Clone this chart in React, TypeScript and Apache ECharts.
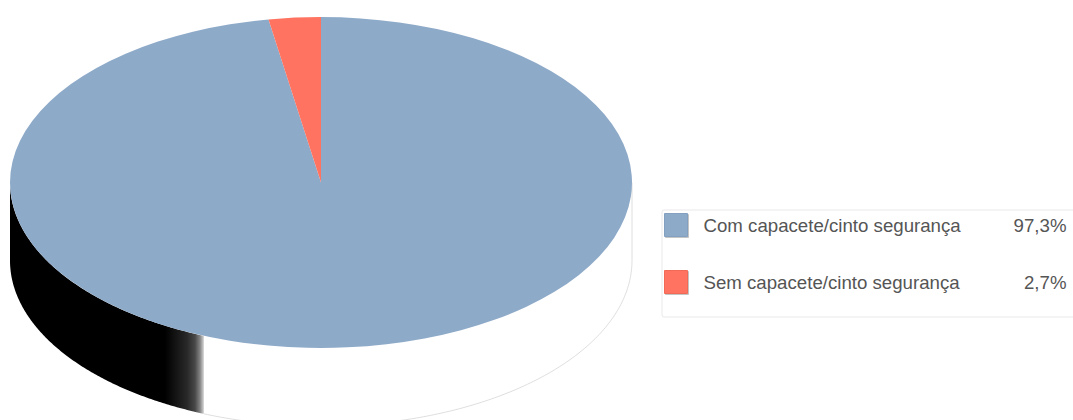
import React, { useEffect, useRef } from "react";
import * as echarts from "echarts";

const categories = ["Com capacete/cinto segurança", "Sem capacete/cinto segurança"];
const percentages = [97.3, 2.7];
const sliceColors = ["#8eaac9", "#ff7360"];
const swatchEdges = ["#84a0c0", "#f06a57"];

const total = percentages.reduce((a, b) => a + b, 0);
const CX = 321;
const CY = 182.5;
const RX = 311;
const RY = 165.5;
const DEPTH = 78;
const SHADE_END_X = 204;

function wallGeometry() {
  const edgeAngle = Math.acos((SHADE_END_X - CX) / RX);
  const arc = (from: number, to: number, dy: number) => {
    const pts: number[][] = [];
    const n = 160;
    for (let i = 0; i <= n; i++) {
      const a = from + ((to - from) * i) / n;
      pts.push([CX + RX * Math.cos(a), CY + RY * Math.sin(a) + dy]);
    }
    return pts;
  };
  const darkTop = arc(edgeAngle, Math.PI, 0);
  const darkBottom = arc(Math.PI, edgeAngle, DEPTH);
  const lightBottom = arc(0, edgeAngle, DEPTH);
  return { dark: [...darkTop, ...darkBottom], lightBottom };
}

function makeRender(index: number) {
  return (_params: any, api: any) => {
    const before = percentages.slice(0, index).reduce((a, b) => a + b, 0);
    const value = api.value(0) as number;
    const start = -Math.PI / 2 + (before / total) * Math.PI * 2;
    const end = start + (value / total) * Math.PI * 2;
    const top = {
      type: "sector",
      x: CX,
      y: CY,
      scaleY: RY / RX,
      shape: { cx: 0, cy: 0, r0: 0, r: RX, startAngle: start, endAngle: end, clockwise: true },
      style: { fill: sliceColors[index] },
      z2: 10,
    };
    if (index !== 0) return top;
    const wall = wallGeometry();
    const gradient = new echarts.graphic.LinearGradient(0, 0, 1, 0, [
      { offset: 0, color: "#000000" },
      { offset: 0.8, color: "#000000" },
      { offset: 0.84, color: "#0f0f0f" },
      { offset: 0.912, color: "#282828" },
      { offset: 0.954, color: "#484848" },
      { offset: 0.98, color: "#868686" },
      { offset: 0.995, color: "#c4c4c4" },
      { offset: 1, color: "#e0e0e0" },
    ]);
    return {
      type: "group",
      children: [
        {
          type: "polygon",
          shape: { points: wall.dark },
          style: { fill: gradient },
          z2: 1,
        },
        {
          type: "polyline",
          shape: { points: [[CX + RX, CY], ...wall.lightBottom] },
          style: { fill: "none", stroke: "#d6d6d6", lineWidth: 0.8 },
          z2: 1,
        },
        top,
      ],
    };
  };
}

export default function App() {
  const ref = useRef<HTMLDivElement>(null);
  useEffect(() => {
    document.body.style.margin = "0";
    const chart = echarts.init(ref.current!, null, { renderer: "svg" });
    const font = { fontFamily: "Liberation Sans", fontSize: 18.67, color: "#555555" };
    chart.setOption({
      animation: false,
      backgroundColor: "#ffffff",
      legend: {
        show: true,
        orient: "vertical",
        left: 662,
        top: 210,
        data: categories.map((name, i) => ({
          name,
          itemStyle: {
            color: sliceColors[i],
            borderColor: swatchEdges[i],
            borderWidth: 1,
            shadowColor: "#c4c4c4",
            shadowOffsetX: 1,
            shadowOffsetY: 1,
            shadowBlur: 0.5,
          },
        })),
        selectedMode: false,
        icon: "rect",
        itemWidth: 23,
        itemHeight: 23,
        itemGap: 33,
        padding: [3, 20, 23, 2],
        backgroundColor: "#ffffff",
        borderColor: "#e9e9e9",
        borderWidth: 1,
        borderRadius: 2,
        textStyle: {
          ...font,
          rich: {
            n: { ...font, width: 300, align: "left", padding: [0, 0, 0, 11] },
            v: { ...font, width: 63, align: "right" },
          },
        },
        formatter: (name: string) => {
          const v = percentages[categories.indexOf(name)].toFixed(1).replace(".", ",") + "%";
          return `{n|${name}}{v|${v}}`;
        },
      },
      series: categories.map((name, i) => ({
        type: "custom",
        name,
        coordinateSystem: "none",
        silent: true,
        itemStyle: { color: sliceColors[i] },
        data: [[percentages[i]]],
        renderItem: makeRender(i),
      })),
    });
    return () => chart.dispose();
  }, []);
  return <div ref={ref} style={{ width: 1073, height: 420, display: "block" }} />;
}
